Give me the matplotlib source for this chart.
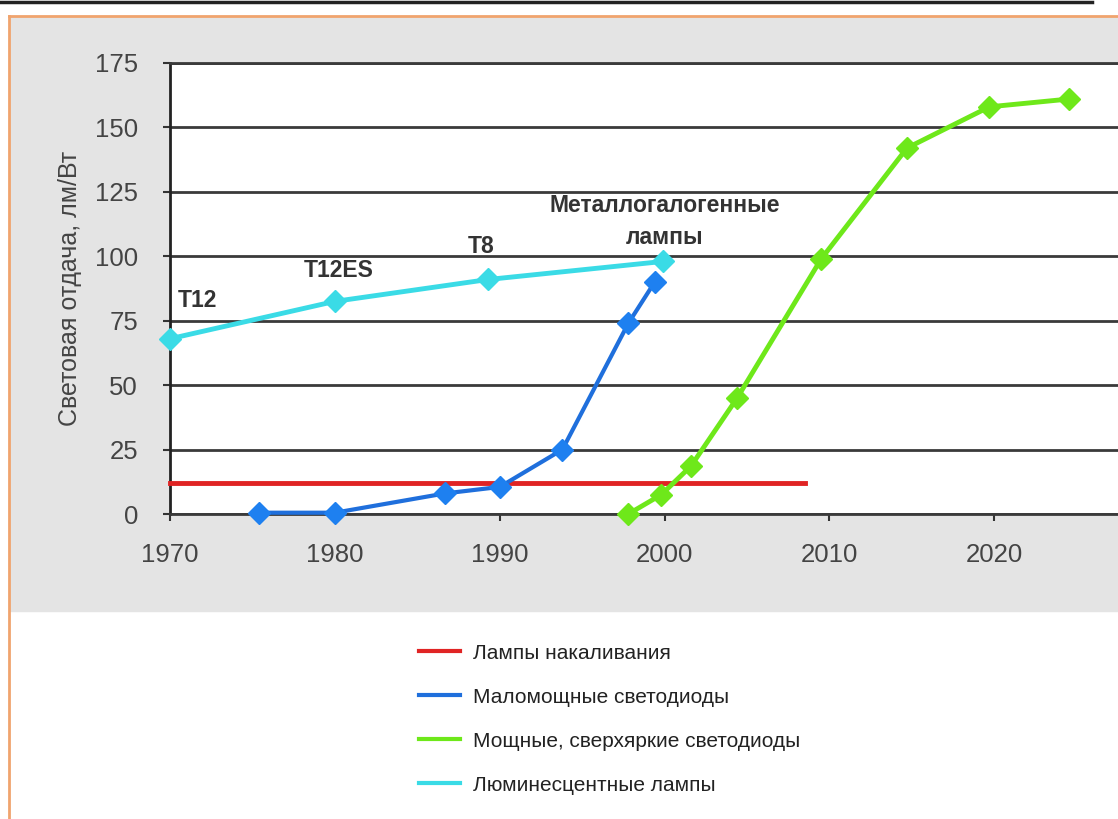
import matplotlib.pyplot as plt
from matplotlib.patches import Rectangle
from matplotlib.lines import Line2D

plt.rcParams['font.family'] = ['Liberation Sans', 'DejaVu Sans']

# data
inc_years = [1970, 2008.5]
inc_eff = [12, 12]

low_led_years = [1975.4, 1980, 1986.7, 1990, 1993.8, 1997.8, 1999.4]
low_led_eff = [0.5, 0.5, 8, 10.5, 25, 74, 90]

hi_led_years = [1997.8, 1999.8, 2001.6, 2004.4, 2009.5, 2014.7, 2019.7, 2024.5]
hi_led_eff = [0, 7.5, 18.6, 45, 99, 142, 158, 161]

fl_years = [1970, 1980, 1989.3, 1999.9]
fl_eff = [68, 82.5, 91, 98]

legend_labels = ['Лампы накаливания', 'Маломощные светодиоды',
                 'Мощные, сверхяркие светодиоды', 'Люминесцентные лампы']
colors = ['#e02424', '#1f6fdc', '#6ee81a', '#3adbe6']

fig = plt.figure(figsize=(11.18, 8.19), dpi=100)

# frame / background
fig.patches.append(Rectangle((10 / 1118, 1 - 611 / 819), 1, (611 - 17) / 819,
                             transform=fig.transFigure, color='#e4e4e4', zorder=0))
fig.add_artist(Line2D([9 / 1118, 1], [1 - 16 / 819] * 2, color='#f0a46e', lw=2))
fig.add_artist(Line2D([9 / 1118] * 2, [0, 1 - 16 / 819], color='#f0a46e', lw=2))
fig.add_artist(Line2D([0, 1092 / 1118], [1 - 1.5 / 819] * 2, color='#222222', lw=2.5))

ax = fig.add_axes([170 / 1118, 1 - 514 / 819, 1 - 170 / 1118, (514 - 63) / 819])
ax.set_zorder(2)
ax.set_facecolor('white')
ax.set_xlim(1970, 2027.5)
ax.set_ylim(0, 175)
ax.set_yticks(range(0, 176, 25))
ax.set_xticks(range(1970, 2021, 10))
ax.grid(axis='y', color='#3a3a3a', lw=2)
ax.set_axisbelow(True)
ax.spines['right'].set_visible(False)
ax.spines['top'].set_color('#3a3a3a')
ax.spines['top'].set_linewidth(2)
ax.spines['left'].set_linewidth(2)
ax.spines['left'].set_color('#222222')
ax.spines['bottom'].set_linewidth(2)
ax.spines['bottom'].set_color('#3a3a3a')
ax.tick_params(axis='both', labelsize=18.5, labelcolor='#444444', color='#333333',
               length=5, width=1.5)
ax.tick_params(axis='x', pad=16)
ax.tick_params(axis='y', pad=18)
ax.set_ylabel('Световая отдача, лм/Вт', fontsize=18, color='#444444', labelpad=9)

ax.plot(inc_years, inc_eff, color=colors[0], lw=3.5, zorder=3, clip_on=False)
ax.plot(low_led_years, low_led_eff, color=colors[1], lw=3, marker='D', ms=11,
        markerfacecolor='#1e80f0', markeredgecolor='#1e80f0', zorder=4, clip_on=False)
ax.plot(hi_led_years, hi_led_eff, color=colors[2], lw=3.5, marker='D', ms=11,
        zorder=4, clip_on=False)
ax.plot(fl_years, fl_eff, color=colors[3], lw=3.5, marker='D', ms=11,
        zorder=4, clip_on=False)

# curve annotations
txt = dict(fontsize=16.5, fontweight='bold', color='#333333')
ax.text(1970.5, 78.5, 'T12', ha='left', va='bottom', **txt)
ax.text(1978.1, 90, 'T12ES', ha='left', va='bottom', **txt)
ax.text(1988.9, 99.5, 'T8', ha='center', va='bottom', **txt)
ax.text(2000, 103, 'Металлогалогенные\nлампы', ha='center', va='bottom',
        linespacing=1.5, **txt)

# legend
handles = [Line2D([], [], color=c, lw=3) for c in colors]
fig.legend(handles, legend_labels, loc='upper left',
           bbox_to_anchor=(400 / 1118, 1 - 625 / 819), frameon=False,
           fontsize=15, labelspacing=1.2, handlelength=2.0, handletextpad=0.6,
           labelcolor='#222222')

fig.savefig('out.png', dpi=100)
